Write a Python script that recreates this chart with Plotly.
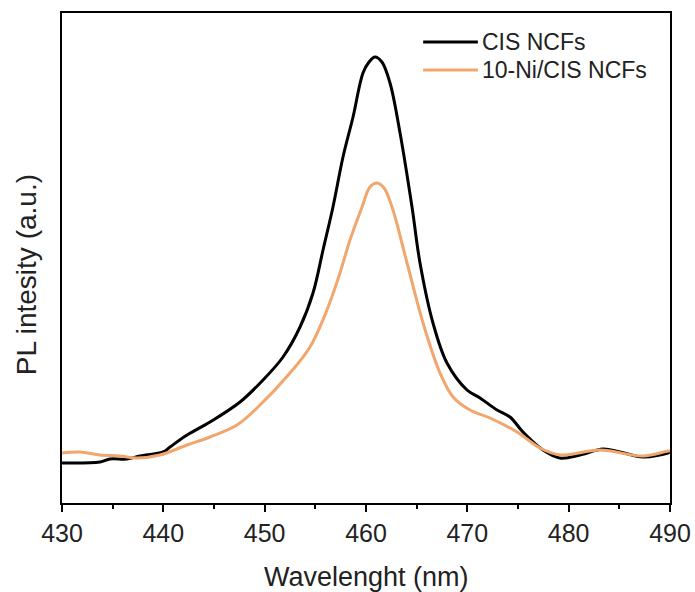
import plotly.graph_objects as go

# Wavelength (nm) and PL intensity (a.u.)
cis_wl = [430.0, 433.75, 434.74, 436.41, 437.70, 439.97, 440.66, 442.34, 444.61, 447.57,
          449.84, 451.81, 453.49, 454.77, 455.76, 456.74, 457.73, 458.72, 459.70, 460.30,
          460.89, 461.57, 462.37, 463.36, 464.54, 465.33, 466.61, 467.99, 469.97, 471.25,
          472.93, 474.21, 475.49, 477.47, 479.14, 481.12, 483.39, 485.07, 487.34, 489.80, 490.0]
cis_pl = [40, 41, 44, 44, 47, 51, 56, 68, 81, 101,
          123, 146, 176, 210, 253, 296, 346, 386, 430, 441,
          446, 441, 420, 370, 296, 240, 180, 140, 113, 105,
          93, 86, 71, 53, 45, 48, 54, 51, 46, 50, 51]

ni_wl = [430.0, 431.78, 433.75, 435.72, 437.40, 439.67, 442.34, 444.61, 447.27, 449.24,
         452.50, 454.47, 456.15, 457.43, 458.42, 459.61, 460.39, 461.09, 461.78, 462.57,
         464.05, 465.63, 467.30, 468.59, 470.26, 472.24, 474.90, 477.17, 479.14, 483.09,
         487.34, 489.80, 490.0]
ni_pl = [50, 51, 48, 47, 45, 48, 58, 66, 78, 95,
         130, 156, 193, 230, 263, 296, 316, 320, 315, 296,
         240, 180, 130, 106, 93, 85, 71, 55, 48, 53,
         47, 52, 52]

x_ticks = [430, 440, 450, 460, 470, 480, 490]
series_names = ["CIS NCFs", "10-Ni/CIS NCFs"]
series_colors = ["black", "#F0A66C"]

FONT = "Liberation Sans, Arial, sans-serif"
TXT = "#222222"

fig = go.Figure()
for wl, pl, name, col in zip([cis_wl, ni_wl], [cis_pl, ni_pl], series_names, series_colors):
    fig.add_trace(go.Scatter(x=wl, y=pl, mode="lines", name=name, showlegend=False,
                             line=dict(color=col, width=3, shape="spline", smoothing=1.0)))

# manual legend (paper coordinates): longer line samples like the reference
shapes = []
annotations = []
leg_y = [0.9408, 0.8837]  # rows
for name, col, yy in zip(series_names, series_colors, leg_y):
    shapes.append(dict(type="line", xref="paper", yref="paper", x0=0.594, x1=0.684,
                       y0=yy, y1=yy, line=dict(color=col, width=3)))
    annotations.append(dict(text=name, xref="paper", yref="paper", x=0.688, y=yy,
                            xanchor="left", yanchor="middle", showarrow=False,
                            font=dict(size=23, family=FONT, color=TXT)))

annotations += [
    dict(text="Wavelenght (nm)", xref="paper", yref="paper", x=0.5, y=-0.151,
         xanchor="center", yanchor="middle", showarrow=False,
         font=dict(size=27, family=FONT, color=TXT)),
    dict(text="PL intesity (a.u.)", xref="paper", yref="paper", x=-0.059, y=0.465,
         xanchor="center", yanchor="middle", showarrow=False, textangle=-90,
         font=dict(size=28, family=FONT, color=TXT)),
]

fig.update_layout(
    width=695, height=592,
    margin=dict(l=62, r=25, t=13, b=89, autoexpand=False),
    plot_bgcolor="white", paper_bgcolor="white",
    font=dict(family=FONT, color=TXT),
    showlegend=False,
    xaxis=dict(range=[430, 490], tickvals=x_ticks, ticktext=[str(v) for v in x_ticks],
               ticks="outside", ticklen=7, tickwidth=1.5, tickcolor="black",
               minor=dict(dtick=5, tick0=430, ticks="outside", ticklen=4, tickwidth=1.5, tickcolor="black"),
               showline=True, linecolor="black", linewidth=1.5, mirror=True,
               showgrid=False, zeroline=False, automargin=False,
               tickfont=dict(size=25, family=FONT, color=TXT)),
    yaxis=dict(range=[0, 490], showticklabels=False, ticks="",
               showline=True, linecolor="black", linewidth=1.5, mirror=True,
               showgrid=False, zeroline=False, automargin=False),
    shapes=shapes,
    annotations=annotations,
)

fig.write_html("out.html")
